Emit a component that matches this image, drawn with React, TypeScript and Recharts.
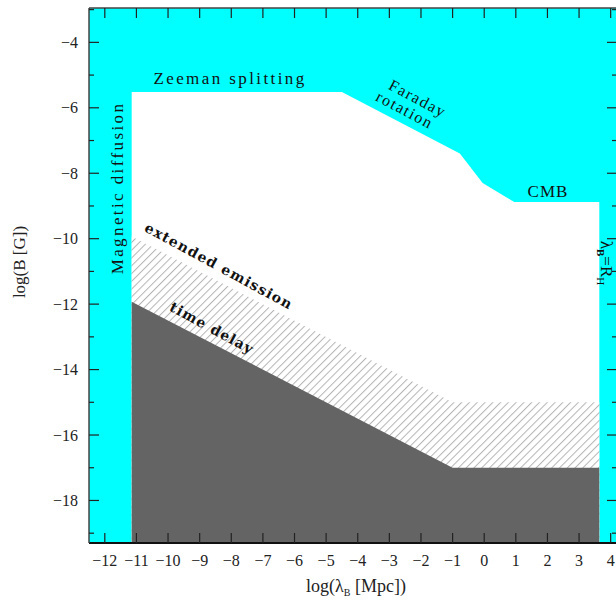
import { ComposedChart, Area, XAxis, YAxis, CartesianGrid } from 'recharts'

// axis ranges, log(lambda_B [Mpc]) and log(B [G])
const X_MIN = -12.5
const X_MAX = 4.2
const Y_MIN = -19.3
const Y_MAX = -2.95

const xTicks = [-12, -11, -10, -9, -8, -7, -6, -5, -4, -3, -2, -1, 0, 1, 2, 3, 4]
const yTicks = [-19, -18, -17, -16, -15, -14, -13, -12, -11, -10, -9, -8, -7, -6, -5, -4, -3]

// upper edge of the allowed (white) region: Zeeman, Faraday, CMB
const openX = [-11.15, -4.5, -0.77, -0.05, 0.95, 3.64]
const openTop = [-5.52, -5.52, -7.4, -8.3, -8.88, -8.88]

// extended emission limit (hatched)
const emissionX = [-11.15, -1, 3.64]
const emissionTop = [-9.93, -15, -15]

// time delay limit (dark)
const delayX = [-11.15, -1, 3.64]
const delayTop = [-11.93, -17, -17]

const lookup = (xs: number[], ys: number[], x: number) => {
  const i = xs.indexOf(x)
  return i >= 0 ? ys[i] : null
}

const allX = Array.from(new Set([...openX, ...emissionX, ...delayX])).sort((a, b) => a - b)
const rows = allX.map(x => ({
  x,
  open: lookup(openX, openTop, x),
  emission: lookup(emissionX, emissionTop, x),
  delay: lookup(delayX, delayTop, x),
}))

const FONT = '"Liberation Serif", serif'
const TICK = '#222'
const fmt = (v: number) => (v < 0 ? '\u2212' + Math.abs(v) : String(v))

const BottomTick = ({ x, y, payload }: any) => (
  <g>
    <line x1={x} y1={y} x2={x} y2={y - 10} stroke={TICK} strokeWidth={1.2} />
    <text x={x} y={y + 23} textAnchor="middle" fontFamily={FONT} fontSize={16} fill="#222">
      {fmt(payload.value)}
    </text>
  </g>
)

const TopTick = ({ x, y }: any) => (
  <line x1={x} y1={y} x2={x} y2={y + 10} stroke={TICK} strokeWidth={1.2} />
)

const LeftTick = ({ x, y, payload }: any) => {
  const major = payload.value % 2 === 0
  return (
    <g>
      <line x1={x} y1={y} x2={x + (major ? 10 : 5)} y2={y} stroke={TICK} strokeWidth={1.2} />
      {major && (
        <text x={x - 11} y={y + 5.5} textAnchor="end" fontFamily={FONT} fontSize={16} fill="#222">
          {fmt(payload.value)}
        </text>
      )}
    </g>
  )
}

const RightTick = ({ x, y, payload }: any) => {
  const major = payload.value % 2 === 0
  return <line x1={x} y1={y} x2={x - (major ? 10 : 5)} y2={y} stroke={TICK} strokeWidth={1.2} />
}

const label = {
  fontFamily: FONT,
  fontSize: 17,
  fill: '#111',
  letterSpacing: 2.4,
} as const

const bold = {
  fontFamily: '"DejaVu Serif", serif',
  fontSize: 14,
  fontWeight: 'bold',
  fill: '#111',
} as const

export default function App() {
  return (
    <div style={{ position: 'absolute', left: 0, top: 0, width: 616, height: 601, overflow: 'hidden', background: '#fff' }}>
      <ComposedChart
        width={640}
        height={601}
        data={rows}
        margin={{ top: 7, right: 22, bottom: 28, left: 19 }}
      >
        <CartesianGrid fill="#00FFFF" horizontal={false} vertical={false} />
        <XAxis
          dataKey="x"
          type="number"
          domain={[X_MIN, X_MAX]}
          allowDataOverflow
          ticks={xTicks}
          interval={0}
          height={30}
          tickSize={0}
          tickMargin={0}
          tickLine={false}
          tick={<BottomTick />}
          axisLine={{ stroke: '#111', strokeWidth: 2 }}
        />
        <XAxis
          xAxisId="top"
          orientation="top"
          dataKey="x"
          type="number"
          domain={[X_MIN, X_MAX]}
          allowDataOverflow
          ticks={xTicks}
          interval={0}
          height={1}
          tickSize={0}
          tickMargin={0}
          tickLine={false}
          tick={<TopTick />}
          axisLine={{ stroke: '#444', strokeWidth: 1.5 }}
        />
        <YAxis
          type="number"
          domain={[Y_MIN, Y_MAX]}
          allowDataOverflow
          ticks={yTicks}
          interval={0}
          width={70}
          tickSize={0}
          tickMargin={0}
          tickLine={false}
          tick={<LeftTick />}
          axisLine={{ stroke: '#444', strokeWidth: 1.5 }}
        />
        <YAxis
          yAxisId="right"
          orientation="right"
          type="number"
          domain={[Y_MIN, Y_MAX]}
          allowDataOverflow
          ticks={yTicks}
          interval={0}
          width={1}
          tickSize={0}
          tickMargin={0}
          tickLine={false}
          tick={<RightTick />}
          axisLine={{ stroke: '#444', strokeWidth: 1.5 }}
        />
        <defs>
          <pattern id="hatch" patternUnits="userSpaceOnUse" width={5.5} height={5.5} patternTransform="rotate(45)">
            <rect width={5.5} height={5.5} fill="#fff" />
            <line x1={0} y1={0} x2={0} y2={5.5} stroke="#b4b4b4" strokeWidth={2} />
          </pattern>
        </defs>
        <Area
          dataKey="open"
          type="linear"
          baseValue={Y_MIN}
          connectNulls
          stroke="none"
          fill="#ffffff"
          fillOpacity={1}
          isAnimationActive={false}
          dot={false}
          activeDot={false}
        />
        <Area
          dataKey="emission"
          type="linear"
          baseValue={Y_MIN}
          connectNulls
          stroke="none"
          fill="url(#hatch)"
          fillOpacity={1}
          isAnimationActive={false}
          dot={false}
          activeDot={false}
        />
        <Area
          dataKey="delay"
          type="linear"
          baseValue={Y_MIN}
          connectNulls
          stroke="none"
          fill="#646464"
          fillOpacity={1}
          isAnimationActive={false}
          dot={false}
          activeDot={false}
        />
      </ComposedChart>

      <svg width={616} height={601} style={{ position: 'absolute', left: 0, top: 0, pointerEvents: 'none' }}>
        <text x={230} y={84} textAnchor="middle" {...label}>Zeeman splitting</text>
        <g transform="rotate(28 407 108)">
          <text x={412} y={100} textAnchor="middle" {...label} fontSize={16} letterSpacing={1.6}>Faraday</text>
          <text x={406} y={116} textAnchor="middle" {...label} fontSize={16} letterSpacing={1.6}>rotation</text>
        </g>
        <text x={548} y={197} textAnchor="middle" {...label} letterSpacing={1}>CMB</text>
        <text x={0} y={0} transform="translate(123 188) rotate(-90)" textAnchor="middle" {...label}>
          Magnetic diffusion
        </text>
        <text x={0} y={0} transform="translate(219 266) rotate(28.5)" textAnchor="middle" dominantBaseline="central" {...bold} letterSpacing={1.2}>
          extended emission
        </text>
        <text x={0} y={0} transform="translate(212 328) rotate(28.5)" textAnchor="middle" dominantBaseline="central" {...bold} letterSpacing={1.2}>
          time delay
        </text>
        <text x={0} y={0} transform="translate(601 263) rotate(90)" textAnchor="middle" fontFamily={FONT} fontSize={17} fill="#111">
          λ<tspan fontSize={11} fontWeight="bold" dy={4}>B</tspan>
          <tspan dy={-4}>=R</tspan>
          <tspan fontSize={11} dy={4}>H</tspan>
        </text>
        <text x={0} y={0} transform="translate(25 262) rotate(-90)" textAnchor="middle" fontFamily={FONT} fontSize={17} fill="#222">
          log(B [G])
        </text>
        <text x={356} y={592} textAnchor="middle" fontFamily={FONT} fontSize={18} fill="#222">
          log(λ<tspan fontSize={10} dy={4}>B</tspan>
          <tspan dy={-4}> [Mpc])</tspan>
        </text>
      </svg>
    </div>
  )
}
